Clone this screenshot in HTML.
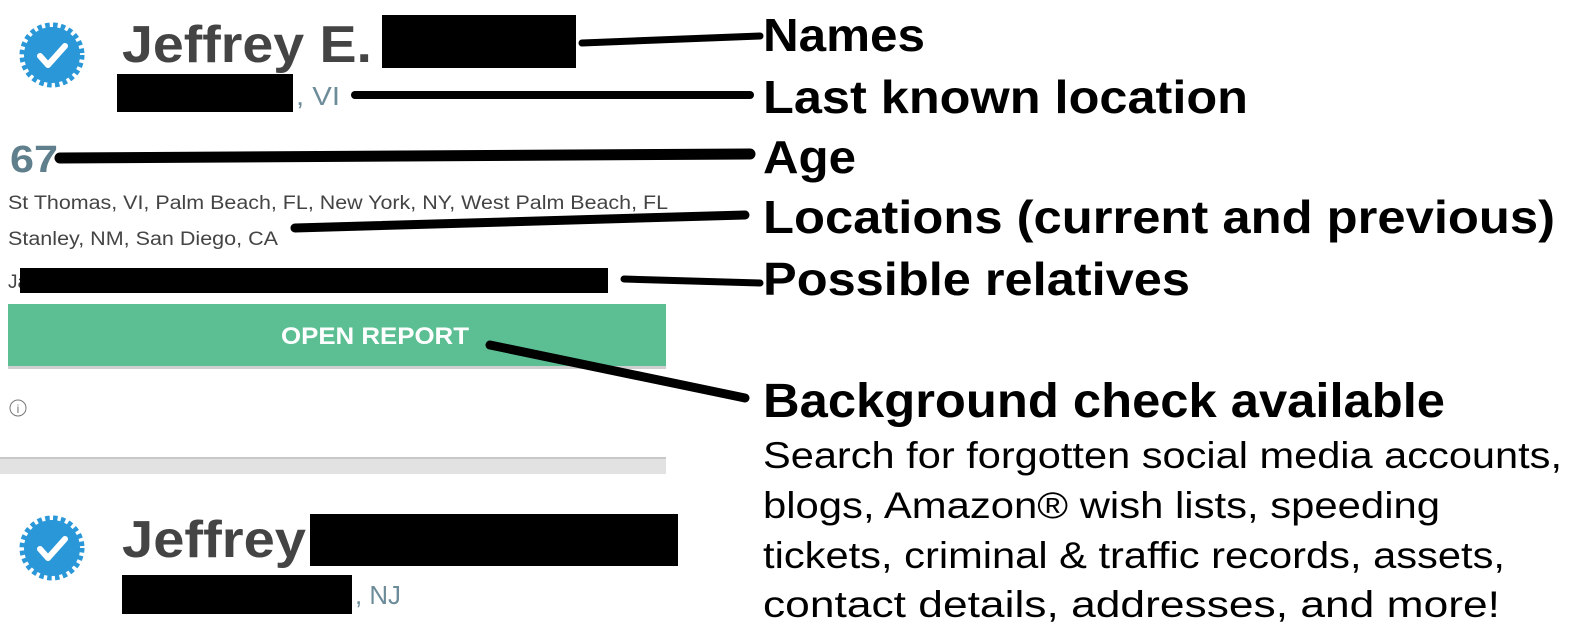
<!DOCTYPE html>
<html><head><meta charset="utf-8"><style>
html,body{margin:0;padding:0;background:#fff;width:1570px;height:633px;overflow:hidden}
svg{display:block}
</style></head><body>
<svg width="1570" height="633" viewBox="0 0 1570 633" xmlns="http://www.w3.org/2000/svg">
<g transform="translate(52,55)">
<circle r="28" fill="#2a97d8"/>
<circle r="30" fill="none" stroke="#2a97d8" stroke-width="5" stroke-dasharray="4.5 3.4"/>
<path d="M-12,1 L-4,10 L13,-9" fill="none" stroke="#fff" stroke-width="6" stroke-linecap="round" stroke-linejoin="round"/>
</g>
<g transform="translate(52,548)">
<circle r="28" fill="#2a97d8"/>
<circle r="30" fill="none" stroke="#2a97d8" stroke-width="5" stroke-dasharray="4.5 3.4"/>
<path d="M-12,1 L-4,10 L13,-9" fill="none" stroke="#fff" stroke-width="6" stroke-linecap="round" stroke-linejoin="round"/>
</g>
<g font-family="Liberation Sans, sans-serif">
<text x="122" y="62" font-size="52" font-weight="bold" fill="#444" textLength="250" lengthAdjust="spacingAndGlyphs">Jeffrey E.</text>
<rect x="382" y="15" width="194" height="53" fill="#000"/>
<rect x="117" y="74" width="176" height="38" fill="#000"/>
<text x="296" y="105" font-size="26" fill="#6d8c9a" textLength="44" lengthAdjust="spacingAndGlyphs">, VI</text>
<text x="10" y="172" font-size="38" font-weight="bold" fill="#5f7f8c" textLength="48" lengthAdjust="spacingAndGlyphs">67</text>
<text x="8" y="209" font-size="19" fill="#444" textLength="660" lengthAdjust="spacingAndGlyphs">St Thomas, VI,  Palm Beach, FL,  New York, NY,  West Palm Beach, FL</text>
<text x="8" y="245" font-size="19" fill="#444" textLength="270" lengthAdjust="spacingAndGlyphs">Stanley, NM,  San Diego, CA</text>
<text x="8" y="288" font-size="19" fill="#444">Ja</text>
<rect x="20" y="268" width="588" height="25" fill="#000"/>
<rect x="8" y="366" width="658" height="3" fill="#cfcfcf"/>
<rect x="8" y="304" width="658" height="62" fill="#5bbf93"/>
<text x="375" y="344" font-size="24" font-weight="bold" fill="#fff" text-anchor="middle" textLength="188" lengthAdjust="spacingAndGlyphs">OPEN REPORT</text>
<circle cx="18" cy="408" r="8" fill="none" stroke="#777" stroke-width="1"/>
<text x="18" y="413" font-size="12" fill="#777" text-anchor="middle">i</text>
<rect x="0" y="457" width="666" height="17" fill="#e2e2e2"/>
<rect x="0" y="457" width="666" height="2" fill="#c8c8c8"/>
<text x="122" y="557" font-size="52" font-weight="bold" fill="#444" textLength="184" lengthAdjust="spacingAndGlyphs">Jeffrey</text>
<rect x="310" y="514" width="368" height="52" fill="#000"/>
<rect x="122" y="575" width="230" height="39" fill="#000"/>
<text x="355" y="604" font-size="26" fill="#6d8c9a" textLength="46" lengthAdjust="spacingAndGlyphs">, NJ</text>
</g>
<g stroke="#000" stroke-linecap="round" fill="none">
<line x1="582" y1="43" x2="760" y2="36" stroke-width="7"/>
<line x1="355" y1="95" x2="750" y2="95" stroke-width="8"/>
<line x1="60" y1="158" x2="750" y2="154" stroke-width="11"/>
<line x1="295" y1="228" x2="745" y2="215" stroke-width="9"/>
<line x1="624" y1="279" x2="760" y2="283" stroke-width="7"/>
<line x1="490" y1="345" x2="745" y2="398" stroke-width="9"/>
</g>
<g font-family="Liberation Sans, sans-serif" fill="#000">
<text x="763" y="51" font-size="46" font-weight="bold" textLength="162" lengthAdjust="spacingAndGlyphs">Names</text>
<text x="763" y="113" font-size="46" font-weight="bold" textLength="485" lengthAdjust="spacingAndGlyphs">Last known location</text>
<text x="763" y="173" font-size="46" font-weight="bold" textLength="93" lengthAdjust="spacingAndGlyphs">Age</text>
<text x="763" y="233" font-size="46" font-weight="bold" textLength="792" lengthAdjust="spacingAndGlyphs">Locations (current and previous)</text>
<text x="763" y="295" font-size="46" font-weight="bold" textLength="427" lengthAdjust="spacingAndGlyphs">Possible relatives</text>
<text x="763" y="417" font-size="48" font-weight="bold" textLength="682" lengthAdjust="spacingAndGlyphs">Background check available</text>
<text x="763" y="468" font-size="37" textLength="799" lengthAdjust="spacingAndGlyphs">Search for forgotten social media accounts,</text>
<text x="763" y="518" font-size="37" textLength="677" lengthAdjust="spacingAndGlyphs">blogs, Amazon® wish lists, speeding</text>
<text x="763" y="568" font-size="37" textLength="742" lengthAdjust="spacingAndGlyphs">tickets, criminal &amp; traffic records, assets,</text>
<text x="763" y="617" font-size="37" textLength="737" lengthAdjust="spacingAndGlyphs">contact details, addresses, and more!</text>
</g>
</svg>
</body></html>
